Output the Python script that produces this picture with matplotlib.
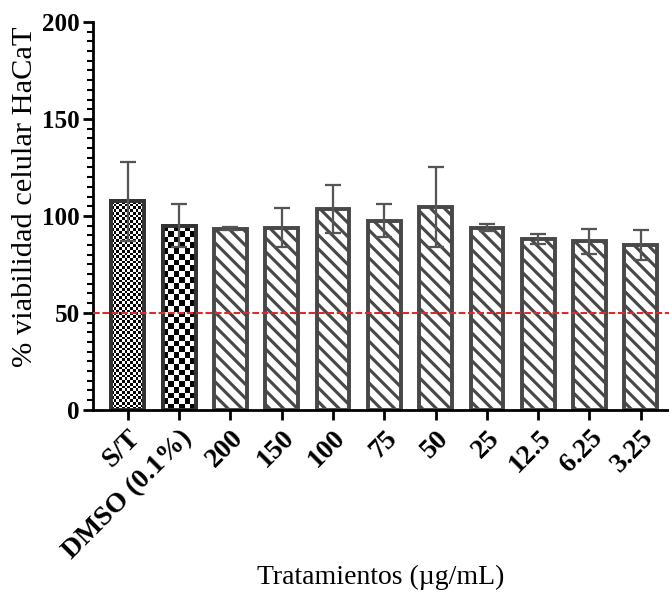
import numpy as np
import matplotlib
matplotlib.use("Agg")
import matplotlib.pyplot as plt
from matplotlib.ticker import MultipleLocator

# data
labels = ["S/T", "DMSO (0.1%)", "200", "150", "100", "75", "50", "25", "12.5", "6.25", "3.25"]
means = [107.5, 95.0, 93.5, 94.0, 103.5, 97.5, 104.5, 94.0, 88.0, 87.0, 85.0]
errs = [20.5, 11.0, 1.0, 10.0, 12.5, 8.5, 20.5, 2.0, 2.5, 6.5, 7.5]
threshold = 50

plt.rcParams["font.family"] = ["Liberation Serif", "DejaVu Serif"]
plt.rcParams["hatch.linewidth"] = 1.8
plt.rcParams["hatch.color"] = "#3a3a3a"

DPI = 125
EDGE = "#484848"
BW = 0.64

fig = plt.figure(figsize=(669 / DPI, 594 / DPI), dpi=DPI)
ax = fig.add_axes([0.139, 0.310, 0.861, 0.653])
ax.set_xlim(-0.68, 10.55)
ax.set_ylim(0, 200)

x = np.arange(len(labels))
bars = ax.bar(x, means, width=BW, color="white", edgecolor=EDGE, linewidth=2.25,
              zorder=2)

# first two bars get checkerboard fills, the rest diagonal hatch
checker = {0: 2.7, 1: 5.7}  # square size in px
for i, b in enumerate(bars):
    if i in checker:
        x0, w, h = b.get_x(), b.get_width(), b.get_height()
        p0 = ax.transData.transform((x0, 0))
        p1 = ax.transData.transform((x0 + w, h))
        nx = max(1, int(round((p1[0] - p0[0]) / checker[i])))
        ny = max(1, int(round((p1[1] - p0[1]) / checker[i])))
        pat = (np.add.outer(np.arange(ny), np.arange(nx)) % 2).astype(float)
        im = ax.imshow(pat, cmap="gray", vmin=0, vmax=1,
                       extent=(x0, x0 + w, 0, h), aspect="auto",
                       interpolation="nearest", zorder=2.1)
        im.set_clip_path(b)
        ax.bar(x[i], means[i], width=BW, color="none", edgecolor="#333333",
               linewidth=2.25, zorder=2.2)
    else:
        b.set_hatch("\\\\\\")

ax.errorbar(x, means, yerr=errs, fmt="none", ecolor="#555555", elinewidth=1.3,
            capsize=4.8, capthick=1.3, zorder=3)

ax.axhline(threshold, color="#de2a2e", linestyle=(0, (3.2, 1.3)), linewidth=1.2, zorder=4)

ax.yaxis.set_major_locator(MultipleLocator(50))
ax.yaxis.set_minor_locator(MultipleLocator(5))

for s in ["top", "right"]:
    ax.spines[s].set_visible(False)
for s in ["left", "bottom"]:
    ax.spines[s].set_linewidth(1.6)

ax.tick_params(axis="y", which="major", length=5.6, width=1.6, labelsize=14.5, pad=2)
ax.tick_params(axis="y", which="minor", length=3.2, width=1.2)
ax.tick_params(axis="x", which="major", length=5.6, width=1.6, labelsize=16)

ax.set_xticks(x)
ax.set_xticklabels(labels, rotation=45, ha="right", rotation_mode="anchor",
                   fontweight="bold")
for t in ax.get_yticklabels():
    t.set_fontweight("bold")

ax.set_ylabel("% viabilidad celular HaCaT", fontsize=17.5)
ax.yaxis.set_label_coords(-0.096, 0.55)
ax.set_xlabel("Tratamientos (µg/mL)", fontsize=16)
ax.xaxis.set_label_coords(0.5, -0.40)

fig.savefig("out.png", dpi=DPI)
